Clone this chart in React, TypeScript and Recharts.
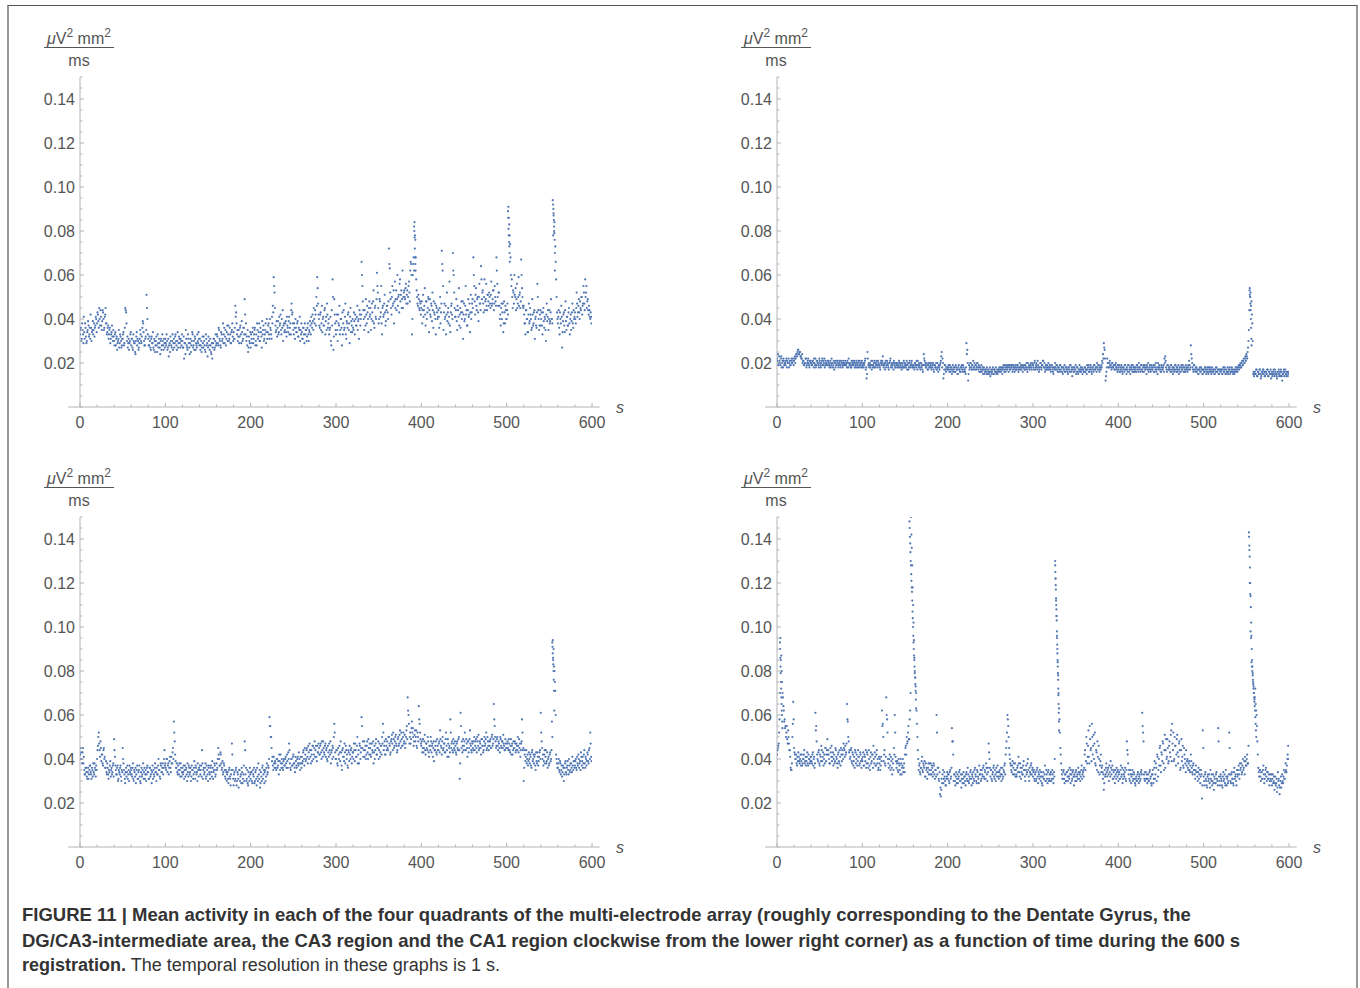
import { ScatterChart, Scatter, XAxis, YAxis, ReferenceLine } from "recharts";

// mean activity in 0.001 µV²mm²/ms
// *Values: samples at t = 0 .. 599 s, *Half: samples at t = 0.5 .. 599.5 s
// upper left: CA3 region
const ca3Values = [
  33,36,31,35,29,34,38,32,30,35,37,33,31,36,34,39,35,32,37,40,
  38,42,36,40,44,37,39,43,35,41,45,38,34,37,33,36,31,34,32,35,
  30,33,28,32,29,31,27,33,30,28,31,34,29,45,43,30,27,31,29,33,
  28,31,26,30,29,24,32,28,30,27,31,33,29,36,38,30,28,32,51,40,
  31,28,30,26,32,29,27,31,25,30,28,33,27,29,24,31,28,30,26,29,
  31,28,30,27,23,29,32,28,30,26,31,29,33,28,30,27,32,29,31,28,
  30,27,22,29,35,28,26,31,27,29,25,30,33,28,26,31,29,27,30,34,
  28,26,30,27,29,32,28,25,31,29,27,30,26,28,24,22,29,31,27,33,
  29,32,28,35,30,27,33,31,29,36,32,28,34,30,37,31,33,29,35,32,
  34,31,46,43,33,30,35,32,37,29,34,31,36,49,33,30,28,25,32,29,
  27,31,34,29,33,36,30,28,35,32,38,30,34,27,33,37,31,35,29,40,
  34,38,31,36,33,41,46,59,52,37,35,32,39,34,37,42,33,36,30,38,
  35,39,32,37,34,41,36,33,47,43,35,38,31,36,34,39,32,35,30,33,
  34,31,36,29,33,35,32,38,30,34,37,41,36,39,45,38,42,50,59,47,
  40,36,43,38,34,41,37,45,39,35,42,38,33,36,30,44,58,26,49,38,
  33,42,30,38,46,35,40,28,33,44,36,47,31,38,42,35,29,45,39,34,
  36,43,33,40,37,46,39,31,42,40,66,55,44,35,41,49,38,43,34,48,
  42,35,47,39,53,36,46,40,61,52,38,49,41,55,33,46,42,51,37,44,
  46,40,72,63,49,42,55,47,38,57,49,44,60,50,43,58,51,45,62,50,
  53,49,56,51,47,55,52,62,65,33,60,68,84,76,58,50,46,49,44,47,
  45,38,51,44,54,37,48,43,50,34,49,41,46,52,36,43,47,33,45,40,
  44,36,50,43,71,62,35,47,41,33,52,43,38,57,34,46,42,70,60,45,
  41,49,35,44,54,42,36,48,43,31,47,40,55,44,37,49,42,34,51,43,
  49,68,55,42,54,44,50,39,56,47,64,49,53,43,58,48,56,44,51,46,
  50,45,57,47,53,44,55,48,68,56,46,52,40,37,47,43,34,48,38,44,
  40,47,91,83,74,60,58,45,52,60,50,44,56,47,59,51,45,67,54,46,
  46,38,33,44,40,34,47,39,42,35,49,37,43,31,41,36,56,44,35,42,
  37,43,33,45,36,40,30,47,41,35,44,39,49,40,94,88,84,73,58,43,
  38,44,33,40,46,27,39,43,34,48,35,41,37,45,33,42,39,47,36,40,
  43,38,52,41,46,43,48,44,50,46,55,47,58,52,45,49,42,44,40,41,
];
const ca3Half = [
  35,30,38,33,41,31,36,29,34,39,32,36,42,30,35,33,38,36,41,34,
  43,39,45,37,41,35,44,40,36,42,38,33,36,31,35,29,33,37,30,32,
  28,34,31,26,30,35,29,32,27,31,33,28,36,44,38,32,29,26,30,34,
  31,27,33,29,25,30,34,31,26,29,35,30,32,39,34,28,31,35,45,33,
  28,32,27,31,29,34,26,30,28,32,25,29,31,27,30,26,33,28,31,27,
  29,33,26,31,28,25,30,27,33,29,27,32,30,26,34,29,31,27,30,33,
  27,32,29,24,31,27,33,29,24,31,28,34,27,30,32,26,28,33,29,31,
  31,28,25,32,27,30,26,33,28,23,32,28,31,25,29,27,31,26,30,28,
  33,29,36,31,28,34,30,38,33,29,35,31,37,33,30,36,29,34,38,30,
  31,36,41,38,35,32,29,36,33,39,30,36,33,42,38,32,35,27,30,34,
  33,29,36,31,35,28,33,38,31,34,30,36,32,39,35,30,33,38,34,31,
  37,33,40,35,31,38,43,55,45,34,39,36,33,41,38,35,40,44,37,34,
  38,34,41,36,39,33,38,44,42,38,33,36,40,34,38,32,36,41,35,38,
  31,36,33,38,35,30,36,33,35,39,33,38,42,35,40,44,37,46,54,42,
  37,42,35,46,40,37,44,33,41,47,36,40,35,41,28,37,50,32,42,35,
  39,35,42,37,33,40,36,43,38,35,41,33,39,36,43,38,41,34,37,40,
  35,39,42,37,41,35,40,44,37,42,60,48,40,44,37,42,46,40,45,41,
  45,40,43,48,38,45,41,49,55,45,40,48,43,38,45,41,47,43,39,46,
  43,48,65,52,45,50,46,53,48,45,53,49,46,51,56,48,53,49,45,52,
  50,54,47,53,50,57,48,66,60,40,65,62,78,68,53,47,51,45,48,42,
  48,44,41,46,42,48,40,45,49,44,42,47,39,44,48,42,40,46,43,41,
  41,45,38,47,65,55,43,40,46,42,39,45,41,37,43,47,40,62,52,41,
  44,39,46,41,37,45,43,40,48,42,39,46,42,37,44,41,47,43,40,47,
  45,60,48,51,46,49,43,50,47,44,58,52,47,50,44,49,46,51,48,52,
  47,51,46,49,53,47,50,46,62,50,52,46,42,45,40,47,38,43,46,40,
  44,42,86,78,68,55,50,53,47,51,54,49,45,50,46,52,48,60,50,45,
  42,38,44,40,34,42,38,45,40,36,42,38,44,40,37,43,50,40,37,44,
  40,37,43,39,41,35,42,39,44,40,38,43,40,38,78,80,62,66,50,40,
  41,36,43,38,41,34,42,37,44,39,41,37,43,38,40,35,43,38,44,41,
  40,45,47,43,49,40,45,50,42,47,52,44,50,55,48,44,46,41,43,38,
];
const ca3BurstTime = [391.5, 391.8, 392.1, 392.4, 392.7, 393, 393.3, 501.6, 501.9, 502.2, 502.5, 502.8, 503.1, 503.4, 503.7, 554.4, 554.7, 555, 555.3, 555.6, 555.9, 556.2, 556.5];
const ca3BurstValue = [82, 80, 77, 72, 68, 65, 62, 89, 86, 81, 78, 75, 73, 70, 66, 92, 90, 87, 85, 82, 79, 76, 70];

// upper right: CA1 region
const ca1Values = [
  22,24,20,21,19,23,20,18,21,20,19,22,21,20,18,21,19,22,20,21,
  21,23,22,24,25,26,24,25,23,22,20,21,19,20,22,19,21,20,18,21,
  20,19,21,18,20,22,19,21,20,18,21,19,20,22,19,20,18,21,20,19,
  21,19,20,18,22,20,19,17,21,20,19,21,18,20,19,21,20,18,20,19,
  21,19,18,20,22,19,20,18,19,21,20,18,19,21,19,20,18,21,19,20,
  18,20,19,21,17,13,25,19,18,20,19,17,21,19,18,20,19,21,18,20,
  19,17,21,20,23,18,19,20,18,21,19,17,20,22,19,18,20,21,19,18,
  20,18,19,21,18,20,17,19,18,20,19,18,21,19,17,20,18,19,21,18,
  19,17,20,18,19,21,18,19,17,20,19,16,24,21,20,18,19,17,20,18,
  19,17,18,20,16,19,18,17,20,16,18,19,21,25,22,13,17,19,16,18,
  17,19,16,18,17,15,19,17,18,16,18,17,15,19,17,16,18,17,19,16,
  17,15,29,26,12,19,18,20,17,19,21,18,17,19,18,20,17,16,18,17,
  16,18,17,15,17,16,18,15,17,16,14,17,16,18,15,17,16,15,17,16,
  17,16,18,17,15,18,17,19,16,18,17,19,18,17,19,18,16,19,18,17,
  18,17,19,16,18,17,19,18,16,18,17,19,18,17,20,18,17,19,18,20,
  19,17,21,18,20,17,19,16,18,20,17,19,21,18,16,19,17,18,20,17,
  18,16,19,17,15,18,20,17,19,16,18,17,19,16,18,15,17,19,16,18,
  17,15,18,16,19,17,14,18,16,17,19,16,18,15,17,16,18,17,15,17,
  16,18,17,15,17,19,16,18,17,15,18,16,19,17,18,20,17,19,16,18,
  19,21,24,29,26,12,16,22,20,18,21,19,17,20,18,19,17,20,18,16,
  17,19,16,18,17,15,18,16,19,17,18,16,19,17,15,18,17,19,16,18,
  18,16,19,17,20,18,16,19,17,18,16,19,17,15,18,20,17,19,16,18,
  17,19,16,18,20,17,15,18,19,17,16,18,17,19,22,23,18,16,19,17,
  18,16,19,17,15,18,17,19,16,18,17,15,18,16,19,17,18,16,17,19,
  18,16,19,21,17,28,22,18,16,19,17,18,16,17,15,17,16,18,17,15,
  17,16,18,15,17,16,18,16,17,15,18,16,17,15,16,18,16,17,15,17,
  16,17,15,18,16,17,15,16,18,16,17,15,16,18,17,16,15,17,16,18,
  17,19,18,20,18,21,19,22,20,23,24,22,27,35,54,52,48,38,15,14,
  16,15,17,14,16,15,17,13,16,15,17,16,14,16,15,17,14,16,15,13,
  16,15,17,14,16,15,13,16,17,15,14,16,12,15,17,16,15,14,16,15,
];
const ca1Half = [
  21,19,23,20,22,18,21,22,19,20,21,18,20,22,20,19,21,20,22,19,
  22,20,24,23,26,24,25,23,22,24,21,19,20,22,18,20,22,19,21,20,
  19,21,20,22,19,18,21,20,19,22,20,18,21,19,21,22,19,20,19,21,
  20,18,21,19,20,18,21,20,18,19,21,20,19,21,18,20,19,21,19,20,
  19,20,21,18,20,19,18,21,20,19,21,20,18,20,18,21,19,20,18,21,
  19,18,20,22,18,15,22,20,19,18,21,19,18,20,21,18,20,19,21,19,
  18,20,19,21,19,20,17,21,19,20,18,20,21,18,20,19,17,20,18,20,
  19,20,18,20,19,18,20,18,21,18,20,19,17,20,18,21,19,20,18,19,
  18,20,19,21,17,19,20,18,20,18,17,19,22,19,18,20,17,19,18,20,
  18,20,19,17,19,18,20,17,18,19,17,20,23,18,20,15,19,17,18,17,
  18,17,19,16,18,17,16,18,16,19,17,15,18,17,16,18,19,16,18,17,
  16,18,24,20,15,17,20,18,19,17,18,20,19,17,20,18,19,18,16,19,
  17,15,18,16,17,15,17,16,15,18,16,15,17,15,17,16,18,16,15,17,
  18,17,16,18,17,19,16,18,17,19,18,16,19,17,18,19,17,18,16,19,
  17,19,18,17,20,18,17,19,18,19,17,18,20,16,18,19,18,20,17,19,
  18,20,17,19,18,21,18,17,20,18,19,21,18,20,17,18,19,17,18,19,
  17,19,18,16,18,17,18,19,17,18,16,19,17,18,16,18,17,16,18,17,
  16,18,17,19,16,18,17,16,18,17,15,18,16,17,19,17,16,18,17,16,
  18,16,17,19,18,16,17,19,16,18,17,19,17,18,16,18,19,17,18,17,
  18,20,22,27,22,14,18,20,18,20,19,18,20,18,19,17,19,18,17,19,
  18,16,17,19,16,18,17,19,17,15,17,19,16,18,17,19,16,18,17,16,
  17,19,18,16,18,17,19,17,16,19,18,17,18,19,17,16,18,17,19,17,
  18,16,19,17,16,18,20,17,18,16,19,17,18,16,20,21,17,19,17,18,
  17,19,16,18,17,16,19,17,18,16,19,17,16,18,17,19,16,18,16,17,
  17,18,17,19,18,24,20,17,19,17,16,18,17,15,17,18,16,17,15,17,
  16,18,17,16,18,15,17,18,16,17,16,17,15,17,18,16,17,15,17,16,
  17,15,17,16,18,15,17,16,15,17,18,16,17,16,15,17,16,18,17,16,
  18,17,19,18,20,19,21,20,22,21,23,25,30,44,50,46,42,30,16,15,
  15,17,14,16,15,17,15,14,16,17,15,14,16,15,17,14,16,15,17,15,
  14,16,15,17,15,14,16,15,14,16,17,14,15,16,14,17,15,16,14,16,
];
const ca1BurstTime = [553.8, 554.1, 554.4, 554.7, 555, 555.3, 555.6, 555.9, 556.2];
const ca1BurstValue = [53, 51, 50, 47, 44, 40, 36, 31, 28];

// lower left: DG/CA3-intermediate area
const dgCa3Values = [
  42,45,40,43,38,35,33,36,32,34,31,35,37,33,36,32,34,38,35,37,
  40,46,52,44,48,39,42,37,45,41,36,34,38,33,35,37,32,36,34,38,
  49,41,35,33,37,31,34,36,32,35,45,38,33,29,36,34,31,35,37,33,
  35,32,38,30,34,36,33,37,31,35,32,29,36,33,38,34,31,35,33,37,
  34,31,36,33,29,37,35,32,38,34,36,33,40,35,31,37,34,38,36,44,
  38,35,40,37,33,39,36,41,38,45,57,48,39,36,34,37,33,35,38,32,
  36,34,31,37,35,33,38,32,36,34,30,37,35,33,39,31,36,34,38,32,
  35,33,37,44,31,36,34,38,32,35,30,37,33,36,34,39,31,35,37,33,
  38,36,45,40,37,42,35,39,34,37,32,35,30,34,29,36,31,33,47,35,
  28,34,31,36,30,33,27,35,32,29,34,31,37,48,33,30,35,28,32,36,
  31,34,29,33,36,30,35,28,32,38,31,27,34,30,37,33,29,35,32,38,
  34,36,59,55,50,39,37,41,36,38,35,40,37,33,39,42,36,38,35,40,
  37,41,36,39,43,47,38,35,40,37,42,38,34,39,36,41,37,40,35,38,
  41,39,44,37,42,40,45,38,43,47,41,44,39,46,42,48,44,41,46,43,
  45,42,47,40,44,48,43,46,41,45,39,43,47,42,38,44,46,41,56,43,
  40,44,37,42,46,39,43,35,45,41,47,38,44,42,36,43,46,40,45,41,
  43,47,39,44,41,50,42,38,46,43,59,45,41,48,44,40,46,43,49,42,
  45,41,47,43,38,46,44,49,42,45,40,47,43,46,50,56,44,48,42,46,
  48,44,50,46,43,49,47,52,45,48,51,46,44,50,47,53,45,49,46,52,
  48,45,50,55,68,60,47,52,49,57,54,46,51,48,53,45,50,64,56,49,
  46,43,49,45,51,42,47,44,48,41,46,50,43,47,45,39,44,48,42,46,
  44,48,53,46,42,50,45,47,43,52,44,49,41,46,58,45,48,43,47,44,
  46,42,48,44,50,31,61,45,43,49,46,52,44,47,41,48,45,53,46,43,
  47,44,50,46,49,43,48,51,45,47,42,49,46,44,50,47,52,45,48,44,
  46,49,45,51,47,65,55,48,46,50,44,47,43,49,45,48,51,46,44,47,
  45,48,44,47,43,49,46,42,48,45,47,44,46,50,43,45,41,47,58,44,
  30,42,39,44,40,37,43,38,41,36,44,40,38,42,35,39,43,37,41,44,
  61,48,40,37,42,38,44,39,36,41,38,43,40,57,94,90,80,71,42,38,
  36,40,34,38,35,32,37,30,36,39,33,37,35,40,34,38,36,41,35,39,
  37,40,35,38,42,36,39,43,37,41,38,44,36,40,39,42,38,45,52,41,
];
const dgCa3Half = [
  40,43,38,45,41,33,36,34,31,36,33,37,34,31,35,38,33,36,32,35,
  44,50,47,41,45,42,38,44,40,36,39,33,36,31,34,39,35,33,37,32,
  44,37,33,36,30,35,33,37,30,34,40,35,31,34,32,37,33,30,34,36,
  33,36,31,35,32,29,35,31,34,37,30,34,32,35,31,36,33,30,36,34,
  31,36,32,35,34,31,33,36,34,30,33,37,35,32,38,34,36,33,40,37,
  36,40,34,38,36,41,34,38,43,40,52,42,36,38,33,35,38,32,36,34,
  33,37,35,32,36,30,34,37,33,36,32,35,31,36,34,37,33,30,35,36,
  37,35,32,38,35,33,36,31,37,33,36,34,31,37,32,36,34,38,32,35,
  35,40,42,37,43,38,36,33,38,35,31,34,33,31,35,32,28,35,42,31,
  33,30,35,28,34,31,35,30,33,36,29,33,30,44,36,31,29,34,30,33,
  34,30,35,32,29,34,31,36,30,33,35,29,32,36,31,35,34,30,36,33,
  37,40,55,50,45,41,35,38,39,36,40,36,39,42,35,38,40,36,39,37,
  40,38,42,36,40,44,36,40,37,41,38,36,41,37,40,38,43,38,41,36,
  38,43,40,45,39,44,41,46,40,44,38,42,46,40,45,41,46,39,43,47,
  42,46,43,48,41,45,42,47,44,40,46,41,44,48,43,40,45,50,52,40,
  44,38,45,40,43,48,37,44,41,39,43,46,40,37,44,39,42,44,38,43,
  40,44,47,41,46,38,44,47,40,45,55,48,44,41,46,42,48,40,45,47,
  42,47,44,48,43,40,47,42,45,48,44,41,46,42,47,52,46,42,49,44,
  45,50,47,42,48,51,44,49,46,50,47,43,49,46,51,48,52,46,50,47,
  51,47,53,49,62,56,50,47,54,52,50,48,53,50,46,52,48,58,52,47,
  48,45,43,48,44,47,45,50,43,46,44,48,46,41,48,44,46,43,49,44,
  47,43,49,45,48,44,47,43,49,46,41,47,45,43,52,47,44,49,45,48,
  43,47,45,49,44,38,55,48,46,44,48,44,49,45,48,43,49,47,44,48,
  45,48,44,48,45,50,46,44,48,45,49,46,43,48,46,49,44,50,46,48,
  48,45,50,46,49,58,50,45,49,46,48,45,50,46,48,45,47,44,49,45,
  47,45,49,44,46,42,47,44,45,48,43,47,44,46,49,47,44,48,52,45,
  36,44,41,38,42,39,40,42,37,43,39,42,41,37,43,38,41,39,43,40,
  52,45,42,39,44,41,38,43,40,37,42,39,44,50,85,82,75,60,40,36,
  38,35,39,33,37,34,36,33,38,34,36,39,33,37,35,38,34,37,39,36,
  39,36,41,37,40,38,35,41,39,36,42,38,41,37,43,39,44,40,47,39,
];
const dgCa3BurstTime = [553.4, 553.7, 554, 554.3, 554.6, 554.9, 555.2, 555.5, 555.8];
const dgCa3BurstValue = [93, 91, 88, 86, 83, 80, 76, 71, 62];

// lower right: Dentate Gyrus
const dgValues = [
  42,45,47,58,95,87,75,68,62,58,55,52,49,53,47,44,36,35,50,66,
  45,42,40,38,41,43,39,40,37,42,38,40,44,39,37,41,38,42,40,39,
  41,38,43,40,36,61,55,42,39,44,37,41,46,39,43,40,38,45,42,49,
  44,40,38,43,46,41,37,42,39,44,40,36,43,38,41,45,39,42,47,44,
  46,43,65,57,48,44,41,45,38,42,39,36,43,40,37,44,41,38,42,36,
  39,43,37,41,44,38,42,36,40,35,43,39,42,46,38,41,37,44,40,36,
  38,35,41,62,56,39,44,37,68,58,40,36,42,35,39,33,38,45,60,41,
  36,39,34,38,35,40,33,37,34,38,42,46,50,48,55,49,62,150,136,118,
  102,86,77,70,56,44,35,38,33,36,41,34,37,39,32,35,31,36,33,38,
  38,33,36,34,37,31,35,60,33,36,30,24,23,31,33,29,34,30,28,32,
  31,33,29,35,32,54,48,30,33,28,34,31,29,32,35,30,27,33,31,29,
  32,28,34,30,33,29,31,35,28,32,34,30,36,32,29,34,31,37,33,30,
  35,32,37,31,34,38,33,36,47,40,32,35,30,34,37,31,33,36,32,34,
  31,35,33,30,36,32,34,38,42,48,60,55,45,40,37,34,39,36,33,38,
  35,32,37,41,34,38,31,36,33,39,35,30,37,34,40,32,36,33,38,35,
  32,35,30,34,31,36,29,33,35,30,32,28,34,31,37,30,33,29,35,31,
  30,34,31,33,29,32,130,112,96,84,70,58,45,38,33,31,35,29,33,30,
  34,30,32,36,29,33,31,35,28,32,34,30,33,36,31,34,32,37,33,35,
  36,44,39,47,41,53,38,49,45,56,42,51,47,38,44,35,41,46,33,39,
  34,37,31,26,35,33,38,32,36,30,34,39,33,37,31,35,29,33,36,32,
  30,34,31,37,33,29,35,32,36,30,48,42,33,31,35,29,33,30,34,31,
  28,32,30,34,29,33,31,35,61,52,33,30,34,31,29,33,30,35,32,28,
  33,29,36,31,38,30,41,35,37,46,34,42,48,38,44,36,49,41,45,39,
  48,41,53,56,44,39,50,46,42,51,38,47,44,36,49,41,37,45,40,34,
  37,40,35,39,34,42,36,33,38,35,31,37,34,30,36,33,29,35,22,53,
  32,28,34,30,27,33,31,29,35,30,28,33,26,31,29,34,30,54,32,28,
  33,30,27,34,31,29,35,28,32,30,52,33,29,34,31,28,36,32,30,35,
  33,37,31,35,38,34,40,36,33,39,37,42,38,143,120,98,84,80,75,70,
  68,65,60,48,36,32,35,30,34,31,37,29,33,36,30,34,31,28,33,30,
  28,33,30,26,32,29,25,34,31,24,30,27,33,29,35,31,38,34,40,46,
];
const dgHalf = [
  44,46,52,70,85,80,70,64,57,54,50,55,47,50,44,41,35,38,56,58,
  43,40,42,37,39,41,38,42,39,37,40,42,38,41,39,43,37,40,38,41,
  39,42,37,41,38,53,48,40,43,38,42,39,44,41,37,42,45,39,44,42,
  42,38,45,41,39,43,40,38,45,41,38,42,39,44,37,42,44,40,45,41,
  42,47,58,50,43,40,44,39,43,37,41,44,38,42,39,41,37,43,39,40,
  41,37,42,39,36,43,38,44,37,41,38,42,36,40,43,37,42,38,35,41,
  40,37,39,55,50,42,38,41,60,52,38,40,37,41,36,40,35,42,52,39,
  38,35,40,37,33,38,36,40,36,34,45,42,47,52,49,58,70,142,128,110,
  94,80,73,62,50,40,37,34,36,39,35,38,36,32,38,36,34,38,35,33,
  35,37,32,38,33,35,32,52,36,31,34,27,26,29,35,31,32,28,31,34,
  33,30,34,31,36,48,42,33,30,32,29,33,31,34,30,33,31,29,34,32,
  30,33,31,36,30,32,34,31,33,29,31,35,33,30,35,32,29,33,35,31,
  33,36,32,35,31,36,30,34,43,36,35,31,33,36,32,35,30,34,37,32,
  34,32,36,33,31,35,37,33,45,52,58,50,42,38,35,37,33,38,35,32,
  33,36,34,38,32,36,34,33,37,35,32,35,33,38,35,30,34,37,33,36,
  34,31,33,30,35,32,34,31,32,34,29,32,31,33,30,35,31,34,30,33,
  33,30,35,31,34,40,122,105,90,78,63,52,42,35,31,34,31,33,30,34,
  32,35,31,33,35,30,34,32,33,30,35,32,31,34,33,30,35,31,34,32,
  42,35,50,38,46,41,55,44,39,50,46,40,52,37,43,48,34,40,37,42,
  36,34,33,29,32,36,34,35,33,37,32,36,35,31,34,32,35,31,34,35,
  33,31,35,32,36,31,33,34,31,35,44,38,35,30,33,32,35,31,33,29,
  31,30,33,31,32,30,34,33,55,48,31,34,31,33,31,30,34,31,29,33,
  35,31,39,33,36,42,32,40,45,37,43,39,47,35,51,44,40,49,38,46,
  43,51,39,47,52,40,46,37,49,43,41,48,35,44,39,46,36,42,38,44,
  39,36,38,35,37,39,34,37,35,33,35,34,32,34,31,35,32,33,28,45,
  30,33,31,28,32,30,33,27,31,33,30,29,32,29,33,31,28,48,30,32,
  31,28,32,30,33,28,32,31,29,33,45,30,33,31,29,34,31,33,28,32,
  35,33,38,36,33,37,35,39,41,37,40,38,46,135,115,95,82,78,73,67,
  72,62,55,42,34,35,32,34,31,35,33,31,35,32,34,31,33,30,31,33,
  31,29,32,29,28,31,27,30,28,27,32,29,30,32,31,34,35,37,42,40,
];
const dgBurstTime = [
  3.4, 3.6, 3.9, 4.1, 4.4, 4.6, 4.9, 5.1, 5.4, 5.6, 5.9, 6.1, 6.4,
  155.2, 155.5, 155.8, 156.1, 156.4, 156.7, 157, 157.3, 157.6, 157.9, 158.2, 158.5, 158.8, 159.1,
  159.4, 159.7, 160, 160.3, 160.6, 160.9, 161.2, 161.5, 161.8, 162.1, 162.4, 162.7, 163,
  326, 326.2, 326.4, 326.6, 326.8, 327, 327.2, 327.4, 327.6, 327.8, 328, 328.2,
  328.4, 328.6, 328.8, 329, 329.2, 329.4, 329.6, 329.8, 330, 330.2, 330.4, 330.6,
  553.2, 553.55, 553.9, 554.25, 554.6, 554.95, 555.3, 555.65, 556, 556.35, 556.7, 557.05, 557.4,
  557.75, 558.1, 558.45, 558.8, 559.15, 559.5, 559.85, 560.2, 560.55, 560.9, 561.25, 561.6,
];
const dgBurstValue = [
  93, 90, 86, 82, 79, 75, 72, 68, 65, 62, 60, 57, 54,
  148, 145, 141, 138, 134, 130, 128, 124, 121, 118, 116, 112, 107, 104,
  100, 96, 93, 90, 87, 85, 82, 79, 77, 74, 71, 67, 63,
  128, 125, 122, 119, 117, 113, 110, 108, 105, 103, 98, 95,
  92, 88, 85, 82, 79, 76, 72, 69, 65, 61, 57, 53,
  141, 137, 132, 127, 120, 114, 109, 102, 96, 90, 85, 82, 79,
  76, 74, 72, 70, 68, 66, 64, 62, 59, 56, 53, 50,
];

const xTicks = [0, 20, 40, 60, 80, 100, 120, 140, 160, 180, 200, 220, 240, 260, 280, 300, 320, 340, 360, 380, 400, 420, 440, 460, 480, 500, 520, 540, 560, 580, 600];
const xLabels = [0, 100, 200, 300, 400, 500, 600];
const yLabels = [0.02, 0.04, 0.06, 0.08, 0.1, 0.12, 0.14];
const yTicks: number[] = [];
for (let k = 0; k <= 30; k++) yTicks.push((k * 5) / 1000);

const DOT = "#5076b3";
const AXIS = "#b4b4b4";
const LABEL = "#555";
const FONT = "'Liberation Sans', Arial, Helvetica, sans-serif";

const toPoints = (values: number[], half: number[], bt: number[], bv: number[]) => [
  ...values.map((v, i) => ({ x: i, y: v / 1000 })),
  ...half.map((v, i) => ({ x: i + 0.5, y: v / 1000 })),
  ...bt.map((t, i) => ({ x: t, y: bv[i] / 1000 })),
];

const Dot = (p: any) => <circle cx={p.cx} cy={p.cy} r={1.1} fill={DOT} />;

const XTick = (p: any) => {
  const v = p.payload.value;
  const major = xLabels.includes(v);
  return (
    <g>
      <line x1={p.x} x2={p.x} y1={p.y} y2={p.y - (major ? 4 : 2.5)} stroke={AXIS} />
      {major && (
        <text x={p.x} y={p.y + 21} textAnchor="middle" fontSize={16} fill={LABEL} fontFamily={FONT}>
          {v}
        </text>
      )}
    </g>
  );
};

const YTick = (p: any) => {
  const v = p.payload.value;
  const major = yLabels.some((l) => Math.abs(l - v) < 1e-6);
  return (
    <g>
      <line x1={p.x} x2={p.x + (major ? 4 : 2.5)} y1={p.y} y2={p.y} stroke={AXIS} />
      {major && (
        <text x={p.x - 5} y={p.y + 6} textAnchor="end" fontSize={16} fill={LABEL} fontFamily={FONT}>
          {v.toFixed(2)}
        </text>
      )}
    </g>
  );
};

function Panel({ left, top, points }: { left: number; top: number; points: { x: number; y: number }[] }) {
  return (
    <div style={{ position: "absolute", left, top, width: 660, height: 440 }}>
      <ScatterChart width={660} height={440} margin={{ top: 77, right: 68, bottom: 3, left: 20 }}>
        <XAxis
          type="number"
          dataKey="x"
          domain={[0, 600]}
          ticks={xTicks}
          interval={0}
          axisLine={false}
          tickLine={false}
          tickSize={0}
          tickMargin={0}
          height={30}
          tick={XTick}
          allowDataOverflow
        />
        <YAxis
          type="number"
          dataKey="y"
          domain={[0, 0.15]}
          ticks={yTicks}
          interval={0}
          axisLine={{ stroke: AXIS }}
          tickLine={false}
          tickSize={0}
          tickMargin={0}
          width={60}
          tick={YTick}
          allowDataOverflow
        />
        <ReferenceLine
          segment={[{ x: -14, y: 0 }, { x: 609, y: 0 }]}
          stroke={AXIS}
          ifOverflow="visible"
        />
        <Scatter data={points} shape={Dot} isAnimationActive={false} />
      </ScatterChart>
      <svg width={660} height={440} style={{ position: "absolute", left: 0, top: 0, pointerEvents: "none" }}>
        <text x={79} y={44} textAnchor="middle" fontSize={16} fill={LABEL} fontFamily={FONT}>
          <tspan fontStyle="italic">μ</tspan>V<tspan dy={-7} fontSize={12}>2</tspan>
          <tspan dy={7}> mm</tspan><tspan dy={-7} fontSize={12}>2</tspan>
        </text>
        <line x1={44} x2={114} y1={47.5} y2={47.5} stroke={LABEL} strokeWidth={1.2} />
        <text x={79} y={66} textAnchor="middle" fontSize={16} fill={LABEL} fontFamily={FONT}>
          ms
        </text>
        <text x={620} y={413} textAnchor="middle" fontSize={16} fontStyle="italic" fill={LABEL} fontFamily={FONT}>
          s
        </text>
      </svg>
    </div>
  );
}

export default function App() {
  return (
    <div style={{ position: "absolute", left: 0, top: 0, width: 1360, height: 988, background: "#fff", overflow: "hidden" }}>
      <div
        style={{
          position: "absolute",
          left: 7,
          top: 5,
          width: 1347,
          height: 990,
          borderTop: "1.5px solid #555",
          borderLeft: "2px solid #999",
          borderRight: "2px solid #999",
        }}
      />
      <Panel left={0} top={0} points={toPoints(ca3Values, ca3Half, ca3BurstTime, ca3BurstValue)} />
      <Panel left={697} top={0} points={toPoints(ca1Values, ca1Half, ca1BurstTime, ca1BurstValue)} />
      <Panel left={0} top={440} points={toPoints(dgCa3Values, dgCa3Half, dgCa3BurstTime, dgCa3BurstValue)} />
      <Panel left={697} top={440} points={toPoints(dgValues, dgHalf, dgBurstTime, dgBurstValue)} />
      <div
        style={{
          position: "absolute",
          left: 22,
          top: 902,
          fontFamily: FONT,
          fontSize: 18.5,
          lineHeight: "25.5px",
          color: "#333",
          whiteSpace: "nowrap",
        }}
      >
        <div style={{ fontWeight: "bold" }}>
          FIGURE 11 | Mean activity in each of the four quadrants of the multi-electrode array (roughly corresponding to the Dentate Gyrus, the
        </div>
        <div style={{ fontWeight: "bold" }}>
          DG/CA3-intermediate area, the CA3 region and the CA1 region clockwise from the lower right corner) as a function of time during the 600 s
        </div>
        <div style={{ fontSize: 18 }}>
          <b>registration.</b> The temporal resolution in these graphs is 1 s.
        </div>
      </div>
    </div>
  );
}
